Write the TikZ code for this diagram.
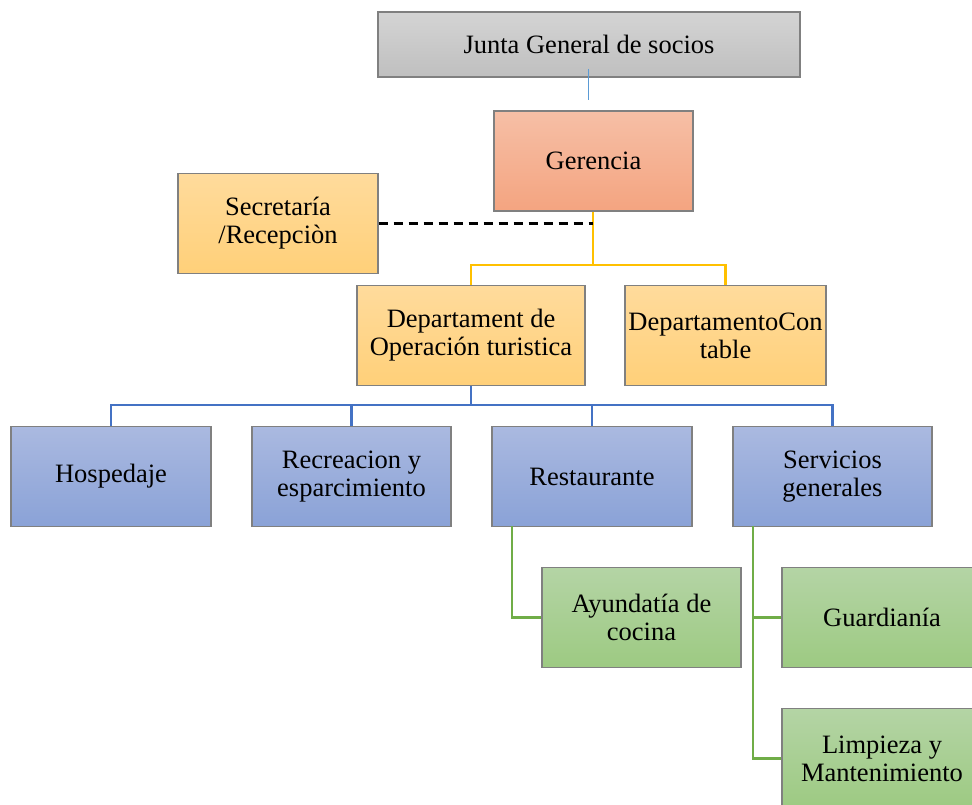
\documentclass[tikz,border=0pt]{standalone}
\usepackage{fontspec}
\setmainfont{Liberation Serif}
\newfontfamily\timesfont{Liberation Serif}
\definecolor{grayT}{HTML}{D4D4D4}
\definecolor{grayB}{HTML}{BFBFBF}
\definecolor{redT}{HTML}{F6BFA6}
\definecolor{redB}{HTML}{F4A480}
\definecolor{orT}{HTML}{FFDB9C}
\definecolor{orB}{HTML}{FFD079}
\definecolor{blT}{HTML}{AAB9E0}
\definecolor{blB}{HTML}{8AA2D7}
\definecolor{grT}{HTML}{B4D4A5}
\definecolor{grB}{HTML}{9DCA82}
\definecolor{edge}{HTML}{808080}
\definecolor{lnY}{HTML}{FFC000}
\definecolor{lnB}{HTML}{4472C4}
\definecolor{lnG}{HTML}{70AD47}
\definecolor{lnLB}{HTML}{5B9BD5}
\tikzset{
  box/.style={draw=edge, line width=1.2pt, minimum width=200pt, minimum height=100pt,
    align=center, inner sep=1pt, font=\timesfont\fontsize{26.5}{28}\selectfont},
  gbox/.style={box, top color=grayT, bottom color=grayB},
  rbox/.style={box, top color=redT, bottom color=redB},
  obox/.style={box, top color=orT, bottom color=orB},
  bbox/.style={box, top color=blT, bottom color=blB},
  grbox/.style={box, top color=grT, bottom color=grB},
  yl/.style={draw=lnY, line width=2.6pt},
  bl/.style={draw=lnB, line width=2.6pt},
  gl/.style={draw=lnG, line width=2.6pt},
}
\begin{document}
\begin{tikzpicture}[x=1pt,y=-1pt]
\useasboundingbox (0,0) rectangle (972,805);
\clip (0,0) rectangle (972,805);
\node[gbox, minimum width=422pt, minimum height=65pt] (junta) at (589,44.5) {Junta General de socios};
\node[rbox, minimum width=199pt] (ger) at (593.5,161) {Gerencia};
\node[obox] (sec) at (278,223.5) {Secretaría\\/Recepciòn};
\node[obox, minimum width=228pt] (dop) at (471,335.5) {Departament de\\Operación turistica};
\node[obox, minimum width=201pt] (dco) at (725.5,335.5) {DepartamentoCon\\table};
\node[bbox] (hos) at (111,476.5) {Hospedaje};
\node[bbox, minimum width=199pt] (rec) at (351.5,476.5) {Recreacion y\\esparcimiento};
\node[bbox] (res) at (592,476.5) {Restaurante};
\node[bbox, minimum width=199pt] (ser) at (832.5,476.5) {Servicios\\generales};
\node[grbox, minimum width=199pt] (ayu) at (641.5,617.5) {Ayundatía de\\cocina};
\node[grbox] (gua) at (882,617.5) {Guardianía};
\node[grbox] (lim) at (882,758.5) {Limpieza y\\Mantenimiento};
% Junta - Gerencia
\coordinate (j1) at (588,69);
\coordinate (j2) at (588,100);
\draw[draw=lnLB, line width=1pt] (j1) -- (j2);
% Gerencia to departments
\coordinate (gy) at (593,265);
\draw[yl] (ger.south -| gy) -- (gy);
\draw[yl] (dop.north) |- (gy) -| (dco.north);
\draw[line width=2.6pt, dash pattern=on 9pt off 6pt] (sec.east) -- (sec.east -| gy);
% Operation dept to units
\coordinate (by) at (471,405);
\draw[bl] (dop.south) -- (by);
\draw[bl] (hos.north) |- (by) -| (ser.north);
\draw[bl] (rec.north) -- (rec.north |- by);
\draw[bl] (res.north) -- (res.north |- by);
% Green
\coordinate (rx) at (512,526);
\coordinate (sx) at (753,526);
\draw[gl] (rx) |- (ayu.west);
\draw[gl] (sx) |- (lim.west);
\draw[gl] (gua.west) -- (gua.west -| sx);
\end{tikzpicture}
\end{document}
